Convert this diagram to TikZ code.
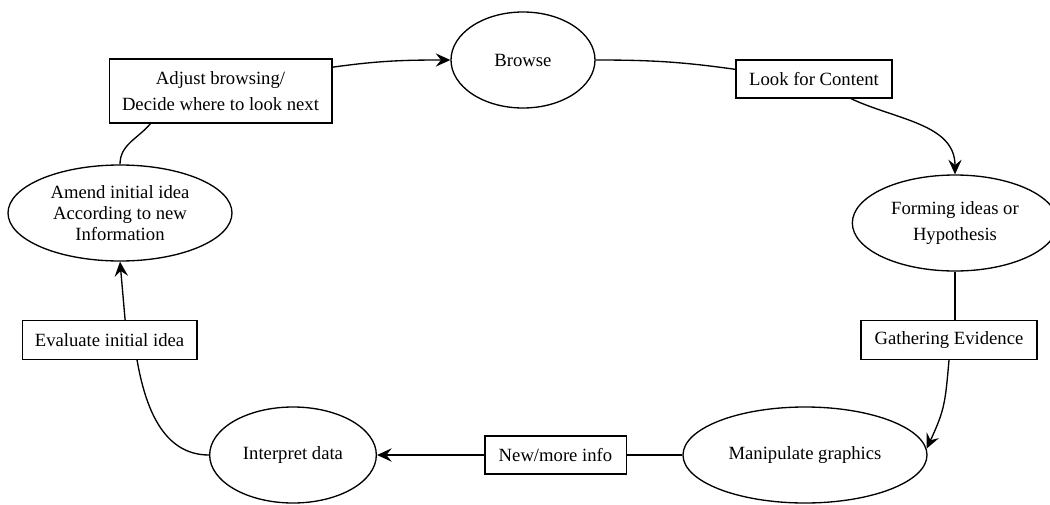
\documentclass[tikz,border=0pt]{standalone}
\usepackage{fontspec}
\setmainfont{Liberation Serif}
\usetikzlibrary{shapes.geometric}
\usetikzlibrary{arrows.meta}

\begin{document}
\begin{tikzpicture}[x=0.75pt,y=-0.75pt,
    ellnode/.style={draw,ellipse,line width=1pt,inner sep=0pt,align=center,
        font=\fontsize{14}{19}\selectfont,minimum height=72pt},
    boxnode/.style={draw,rectangle,line width=1pt,inner sep=0pt,align=center,
        font=\fontsize{14}{19}\selectfont,fill=white},
    link/.style={line width=1pt},
    arr/.style={line width=1pt,-{Stealth[length=11pt,width=10pt,inset=4pt]}}
    ]
    \useasboundingbox (0,0) rectangle (1050,504);

    % ellipses
    \node[ellnode,minimum width=108pt] (browse) at (523,60) {Browse};
    \node[ellnode,minimum width=154pt] (forming) at (955,223) {Forming ideas or\\Hypothesis};
    \node[ellnode,minimum width=183pt] (manip) at (805,455) {Manipulate graphics};
    \node[ellnode,minimum width=125pt] (interp) at (293,455) {Interpret data};
    \node[ellnode,minimum width=168pt,font=\fontsize{14}{15.5}\selectfont] (amend) at (120,213)
        {Amend initial idea\\According to new\\Information};

    % boxes
    \node[boxnode,minimum width=167pt,minimum height=48pt] (adjust) at (220.5,91)
        {Adjust browsing/\\Decide where to look next};
    \node[boxnode,minimum width=117pt,minimum height=28.5pt] (look) at (814,79) {Look for Content};
    \node[boxnode,minimum width=132pt,minimum height=29pt] (gather) at (949,340) {Gathering Evidence};
    \node[boxnode,minimum width=106pt,minimum height=28.5pt] (newinfo) at (555.5,455) {New/more info};
    \node[boxnode,minimum width=131pt,minimum height=29pt] (evaluate) at (109.5,340) {Evaluate initial idea};

    % connectors
    \draw[arr] (adjust.12) to[out=8,in=180] (browse.west);
    \draw[link] (browse.east) to[out=0,in=172] (look.173);
    \draw[arr] (look.-28) to[out=-25,in=90] (forming.north);
    \draw[link] (forming.south) -- (forming.south |- gather.north);
    \draw[arr] (gather.south) to[out=-95,in=65,looseness=1.2] (manip.3);
    \draw[link] (manip.west) -- (newinfo.east);
    \draw[arr] (newinfo.west) -- (interp.east);
    \draw[link] (evaluate.-36) to[out=-80,in=180] (interp.west);
    \draw[arr] (evaluate.52) -- (amend.south);
    \draw[link] (adjust.205) to[out=-130,in=90] (amend.north);
\end{tikzpicture}
\end{document}
